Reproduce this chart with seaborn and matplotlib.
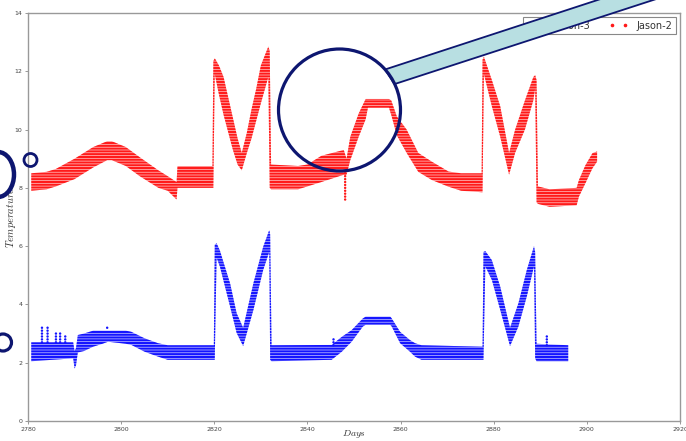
import numpy as np
import pandas as pd
import matplotlib
matplotlib.use("Agg")
import matplotlib.pyplot as plt
import seaborn as sns
from matplotlib.lines import Line2D
from matplotlib import patches
from matplotlib import transforms as mtransforms
from matplotlib.colors import to_rgba

# ---------------- data ----------------
# Each series is a band of records (quantised to 0.1 deg); the band is
# described by its lower / upper edge at the days where its shape changes.
red_day = [2780.7, 2784, 2786, 2790, 2794, 2797, 2798, 2801, 2804, 2808, 2810,
           2811.9, 2812.1, 2819.6, 2819.8, 2820.1, 2821, 2822, 2823, 2824, 2825,
           2825.9, 2827, 2828, 2829, 2830, 2831.6, 2831.9, 2832.2, 2838, 2840,
           2843, 2847.8, 2848.4, 2849.2, 2851, 2852.5, 2853, 2857.5, 2858, 2859.2,
           2861.3, 2863.8, 2866.7, 2870.3, 2873, 2877.4, 2877.6, 2877.9, 2879.6,
           2881.4, 2883.3, 2884.6, 2886.7, 2888.5, 2888.9, 2889.2, 2889.5, 2892,
           2897.8, 2898.3, 2899.7, 2901.2, 2902.2]
red_lo = [7.9, 7.95, 8.05, 8.3, 8.7, 8.95, 8.95, 8.75, 8.4, 8.0, 7.9,
          7.6, 8.0, 8.0, 8.0, 11.9, 11.2, 10.5, 9.9, 9.3, 8.8,
          8.6, 9.2, 9.7, 10.3, 10.9, 11.8, 8.0, 7.95, 7.95, 8.05,
          8.2, 8.45, 8.45, 8.95, 9.75, 10.35, 10.75, 10.75, 10.5, 9.8,
          9.2, 8.55, 8.27, 8.04, 7.9, 7.85, 7.85, 11.9, 10.8,
          9.75, 8.45, 9.2, 10.0, 11.0, 11.4, 7.5, 7.45, 7.35,
          7.4, 7.7, 8.16, 8.67, 8.9]
red_hi = [8.5, 8.55, 8.65, 9.0, 9.4, 9.6, 9.6, 9.4, 9.05, 8.6, 8.4,
          8.2, 8.75, 8.75, 12.35, 12.45, 12.2, 11.8, 11.1, 10.4, 9.7,
          9.2, 9.9, 10.7, 11.4, 12.2, 12.85, 12.7, 8.8, 8.75, 8.8,
          9.1, 9.3, 9.0, 9.75, 10.55, 11.05, 11.05, 11.05, 11.0, 10.45,
          10.0, 9.2, 8.9, 8.56, 8.5, 8.5, 12.4, 12.5, 11.7,
          10.8, 9.2, 10.0, 11.0, 11.8, 11.87, 11.7, 8.05, 7.95,
          8.0, 8.27, 8.78, 9.19, 9.25]

blue_day = [2780.7, 2789.7, 2790.0, 2790.3, 2790.7, 2792, 2794, 2796, 2797.2, 2801,
            2802.2, 2805, 2807.9, 2810, 2819.9, 2820.1, 2820.5, 2821.2, 2823.4,
            2824.8, 2826.2, 2828.4, 2830.5, 2831.8, 2832.0, 2832.3, 2845.2, 2847.4,
            2849.5, 2851.9, 2852.5, 2857.8, 2858.1, 2859.9, 2862.0, 2863.1, 2864.5,
            2877.6, 2877.8, 2878.2, 2879.6, 2881.4, 2883.5, 2885.3, 2887.1, 2888.65,
            2888.9, 2889.2, 2896.0]
blue_lo = [2.05, 2.15, 1.8, 1.9, 2.35, 2.4, 2.55, 2.65, 2.72, 2.65,
           2.61, 2.38, 2.21, 2.1, 2.1, 2.1, 5.6, 5.3, 3.92,
           3.02, 2.57, 3.81, 5.18, 5.8, 2.1, 2.05, 2.1, 2.38,
           2.72, 3.24, 3.3, 3.3, 3.24, 2.67, 2.38, 2.21, 2.1,
           2.1, 2.1, 5.3, 4.84, 3.81, 2.57, 3.24, 4.27, 5.3,
           2.15, 2.05, 2.05]
blue_hi = [2.7, 2.7, 2.4, 2.5, 2.95, 3.0, 3.1, 3.1, 3.1, 3.1,
           3.06, 2.84, 2.67, 2.6, 2.6, 6.05, 6.1, 5.85, 4.72,
           3.7, 3.2, 4.73, 5.98, 6.55, 6.4, 2.6, 2.61, 2.89,
           3.12, 3.52, 3.58, 3.58, 3.52, 3.06, 2.78, 2.67, 2.6,
           2.55, 5.8, 5.83, 5.52, 4.61, 3.2, 4.04, 5.18, 6.0,
           5.8, 2.65, 2.6]

# isolated spikes / dips made of single records
red_thin_day = [2848.1]
red_thin_lo = [7.6]
red_thin_hi = [8.5]
blue_thin_day = [2783.0, 2784.2, 2786.0, 2786.9, 2788.0, 2797.0, 2845.6, 2891.4]
blue_thin_lo = [2.7, 2.7, 2.7, 2.7, 2.7, 3.2, 2.6, 2.6]
blue_thin_hi = [3.2, 3.2, 3.05, 3.0, 2.9, 3.2, 2.85, 2.95]

series_names = ["Jason-3", "Jason-2"]
series_colors = ["#1414ff", "#ff1a1a"]
x_ticks = [2780, 2800, 2820, 2840, 2860, 2880, 2900, 2920]
y_ticks = [0, 2, 4, 6, 8, 10, 12, 14]


def expand(days, lo, hi, name):
    """List every 0.1-deg record level between lo and hi."""
    rows = []
    for d, a, b in zip(days, lo, hi):
        for k in range(int(np.ceil(a * 10 - 1e-6)), int(np.floor(b * 10 + 1e-6)) + 1):
            rows.append((d, k / 10.0, name))
    return rows


thin_df = pd.DataFrame(
    expand(blue_thin_day, blue_thin_lo, blue_thin_hi, "Jason-3")
    + expand(red_thin_day, red_thin_lo, red_thin_hi, "Jason-2"),
    columns=["day", "temp", "series"])

# ---------------- figure ----------------
sns.set_style("white")
plt.rcParams["font.family"] = ["DejaVu Sans"]
plt.rcParams["mathtext.fontset"] = "cm"
plt.rcParams["hatch.linewidth"] = 1.5

fig = plt.figure(figsize=(6.86, 4.41), dpi=100)
ax = fig.add_axes([28 / 686, 20 / 441, 652 / 686, 408 / 441])

pal = dict(zip(series_names, series_colors))
for days, lo, hi, name in [(blue_day, blue_lo, blue_hi, "Jason-3"),
                           (red_day, red_lo, red_hi, "Jason-2")]:
    plt.rcParams["hatch.color"] = pal[name]
    ax.fill_between(days, lo, hi, facecolor=to_rgba(pal[name], 0.22),
                    edgecolor=pal[name], linewidth=0, hatch="------")

sns.scatterplot(data=thin_df, x="day", y="temp", hue="series", palette=pal,
                marker="o", s=3, linewidth=0, edgecolor="none",
                legend=False, ax=ax)

ax.set_xlim(2780, 2920)
ax.set_ylim(0, 14)
ax.set_xticks(x_ticks)
ax.set_yticks(y_ticks)
ax.tick_params(axis="both", labelsize=4.5, labelcolor="#444444", color="#888888",
               length=2.5, width=0.6, direction="out", pad=1.5,
               bottom=True, left=True)
for sp in ax.spines.values():
    sp.set_color("#999999")
    sp.set_linewidth(1.0)

ax.set_xlabel(r"$Days$", fontsize=7.0, color="#333333")
ax.xaxis.set_label_coords(0.5, -0.017)
ax.set_ylabel(r"$Temperature$", fontsize=7.5, color="#333333")
ax.yaxis.set_label_coords(-0.016, 0.5)

handles = [Line2D([], [], ls="none", marker="o", ms=1.6, color=c, label=n)
           for n, c in zip(series_names, series_colors)]
leg = ax.legend(handles=handles, loc="upper right", ncol=2, numpoints=2,
                fontsize=7, frameon=True, fancybox=False, framealpha=1,
                edgecolor="#888888", borderaxespad=0.45, handlelength=1.95,
                handletextpad=0.9, columnspacing=1.9, borderpad=0.35)
leg.get_frame().set_linewidth(0.8)
for t in leg.get_texts():
    t.set_color("#333333")

# ---------------- overlay graphics on top of the chart ----------------
H = 441
ident = mtransforms.IdentityTransform()
navy = "#0d1670"

handle_poly = patches.Polygon(
    [(385, H - 69.5), (394.5, H - 84.1), (720, H - (-21.7)), (720, H - (-40.0))],
    closed=True, facecolor="#b8dfe2", edgecolor=navy, linewidth=1.3,
    transform=ident, zorder=5)
fig.add_artist(handle_poly)
fig.add_artist(patches.Circle((339.5, H - 110), 61, fill=False, edgecolor=navy,
                              linewidth=2.3, transform=ident, zorder=6))
fig.add_artist(patches.Circle((30.5, H - 160), 6.5, fill=False, edgecolor=navy,
                              linewidth=2.0, transform=ident, zorder=6))
fig.add_artist(patches.Ellipse((-2, H - 174.5), 32, 45, fill=False, edgecolor=navy,
                               linewidth=3.2, transform=ident, zorder=6))
fig.add_artist(patches.Circle((3, H - 342.5), 8.5, fill=False, edgecolor=navy,
                              linewidth=2.3, transform=ident, zorder=6))

fig.savefig("out.png", dpi=100)
